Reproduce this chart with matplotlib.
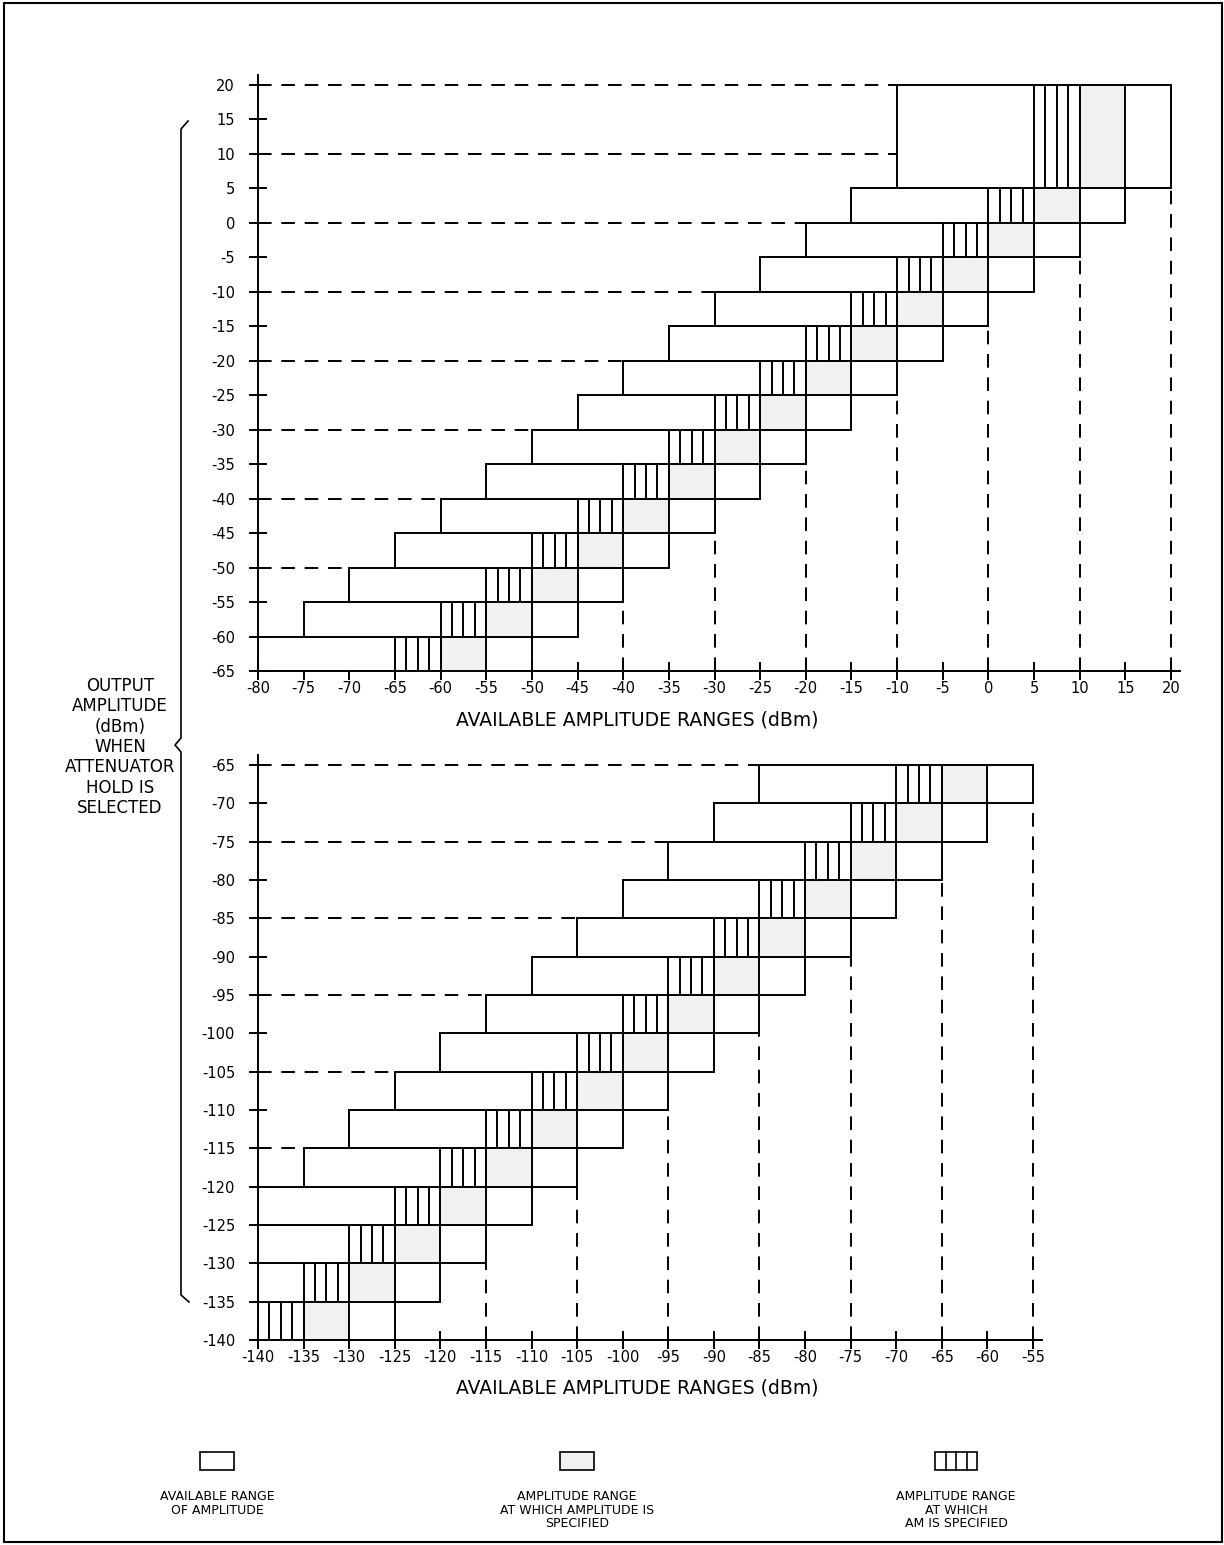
#!/usr/bin/env python3
# -*- coding: utf-8 -*-
'''
Attenuator hold: available amplitude ranges (two panels)
'''
import numpy as np
import matplotlib
matplotlib.use('Agg')
import matplotlib.pyplot as plt
from matplotlib.patches import Rectangle
from matplotlib.lines import Line2D

plt.rcParams['font.family'] = ['DejaVu Sans']
plt.rcParams['axes.unicode_minus'] = False

# ---- upper panel (dBm) ----
top_row_lo   = [-65, -60, -55, -50, -45, -40, -35, -30, -25, -20, -15, -10, -5, 0, 5]
top_row_hi   = [-60, -55, -50, -45, -40, -35, -30, -25, -20, -15, -10, -5, 0, 5, 20]
top_avail_lo = [-80, -75, -70, -65, -60, -55, -50, -45, -40, -35, -30, -25, -20, -15, -10]
top_avail_hi = [-50, -45, -40, -35, -30, -25, -20, -15, -10, -5, 0, 5, 10, 15, 20]
top_am_lo    = [-65, -60, -55, -50, -45, -40, -35, -30, -25, -20, -15, -10, -5, 0, 5]
top_am_hi    = [-60, -55, -50, -45, -40, -35, -30, -25, -20, -15, -10, -5, 0, 5, 10]
top_spec_hi  = [-55, -50, -45, -40, -35, -30, -25, -20, -15, -10, -5, 0, 5, 10, 15]
top_dash_h_y = [20, 10, 0, -10, -20, -30, -40, -50]
top_dash_h_x = [-10, -10, -20, -30, -40, -50, -60, -70]
top_dash_v_x = [20, 10, 0, -10, -20, -30, -40]
top_dash_v_y = [5, -5, -15, -25, -35, -45, -55]
top_xticks = list(range(-80, 21, 5))
top_yticks = list(range(-65, 21, 5))

# ---- lower panel (dBm) ----
bot_row_lo   = [-140, -135, -130, -125, -120, -115, -110, -105, -100, -95, -90, -85, -80, -75, -70]
bot_row_hi   = [-135, -130, -125, -120, -115, -110, -105, -100, -95, -90, -85, -80, -75, -70, -65]
bot_avail_lo = [-140, -140, -140, -140, -135, -130, -125, -120, -115, -110, -105, -100, -95, -90, -85]
bot_avail_hi = [-125, -120, -115, -110, -105, -100, -95, -90, -85, -80, -75, -70, -65, -60, -55]
bot_am_lo    = [-140, -135, -130, -125, -120, -115, -110, -105, -100, -95, -90, -85, -80, -75, -70]
bot_am_hi    = [-135, -130, -125, -120, -115, -110, -105, -100, -95, -90, -85, -80, -75, -70, -65]
bot_spec_hi  = [-130, -125, -120, -115, -110, -105, -100, -95, -90, -85, -80, -75, -70, -65, -60]
bot_dash_h_y = [-65, -75, -85, -95, -105, -115]
bot_dash_h_x = [-85, -95, -105, -115, -125, -135]
bot_dash_v_x = [-55, -65, -75, -85, -95, -105, -115]
bot_dash_v_y = [-70, -80, -90, -100, -110, -120, -130]
bot_xticks = list(range(-140, -54, 5))
bot_yticks = list(range(-140, -64, 5))

W, H = 1224, 1545
LW = 1.4
GRAY = '#f1f1f1'
DASH = (0, (7, 5))


def fx(px):
    return px / W


def fy(py):
    return 1 - py / H


def draw_panel(ax, row_lo, row_hi, avail_lo, avail_hi, am_lo, am_hi, spec_hi,
               dh_y, dh_x, dv_x, dv_y, xticks, yticks, xlim, ylim):
    for i in range(len(row_lo)):
        h = row_hi[i] - row_lo[i]
        ax.add_patch(Rectangle((avail_lo[i], row_lo[i]), avail_hi[i] - avail_lo[i], h,
                               facecolor='white', edgecolor='black', lw=LW, zorder=2))
        ax.add_patch(Rectangle((am_hi[i], row_lo[i]), spec_hi[i] - am_hi[i], h,
                               facecolor=GRAY, edgecolor='black', lw=LW, zorder=3))
        # AM range: four vertical strips
        for x in np.linspace(am_lo[i], am_hi[i], 5):
            ax.plot([x, x], [row_lo[i], row_hi[i]], color='black', lw=LW, zorder=4)
    for y, x in zip(dh_y, dh_x):
        ax.plot([xlim[0], x], [y, y], color='black', lw=LW, linestyle=DASH, zorder=1)
    for x, y in zip(dv_x, dv_y):
        ax.plot([x, x], [ylim[0], y], color='black', lw=LW, linestyle=DASH, zorder=1)

    ax.set_xlim(*xlim)
    ax.set_ylim(*ylim)
    ax.spines['top'].set_visible(False)
    ax.spines['right'].set_visible(False)
    for s in ('left', 'bottom'):
        ax.spines[s].set_linewidth(LW)
        ax.spines[s].set_zorder(5)
    ax.set_xticks(xticks)
    ax.set_yticks(yticks)
    ax.tick_params(axis='both', direction='inout', length=13, width=LW, labelsize=10.5)
    ax.tick_params(axis='x', pad=1)
    ax.tick_params(axis='y', pad=10)


fig = plt.figure(figsize=(W / 100, H / 100), dpi=100)

# upper panel: x -80..20 at px 258..1171, y -65..20 at py 671..85
ax1 = fig.add_axes([fx(258), fy(671), (1171 - 258) / 100 * 101 / W, (671 - 85) / 85 * 86.5 / H])
draw_panel(ax1, top_row_lo, top_row_hi, top_avail_lo, top_avail_hi, top_am_lo, top_am_hi,
           top_spec_hi, top_dash_h_y, top_dash_h_x, top_dash_v_x, top_dash_v_y,
           top_xticks, top_yticks, (-80, 21), (-65, 21.5))

# lower panel: x -140..-55 at px 258..1033, y -140..-65 at py 1340..765
ax2 = fig.add_axes([fx(258), fy(1340), (1033 - 258) / 85 * 86 / W, (1340 - 765) / 75 * 76.3 / H])
draw_panel(ax2, bot_row_lo, bot_row_hi, bot_avail_lo, bot_avail_hi, bot_am_lo, bot_am_hi,
           bot_spec_hi, bot_dash_h_y, bot_dash_h_x, bot_dash_v_x, bot_dash_v_y,
           bot_xticks, bot_yticks, (-140, -54), (-140, -63.7))

# axis titles
fig.text(fx(637), fy(720), 'AVAILABLE AMPLITUDE RANGES (dBm)', ha='center', va='center', fontsize=13.5)
fig.text(fx(637), fy(1388), 'AVAILABLE AMPLITUDE RANGES (dBm)', ha='center', va='center', fontsize=13.5)

# shared y label with brace
fig.text(fx(120), fy(747), 'OUTPUT\nAMPLITUDE\n(dBm)\nWHEN\nATTENUATOR\nHOLD IS\nSELECTED',
         ha='center', va='center', fontsize=12, linespacing=1.17)
brace_px = [(188, 121), (181, 129), (181, 738), (175, 745), (181, 752), (181, 1295), (189, 1302)]
fig.add_artist(Line2D([fx(p[0]) for p in brace_px], [fy(p[1]) for p in brace_px],
                      color='black', lw=1.2))

# legend
leg_boxes = [(200, 34), (560, 34), (935, 42)]
leg_texts = ['AVAILABLE RANGE\nOF AMPLITUDE',
             'AMPLITUDE RANGE\nAT WHICH AMPLITUDE IS\nSPECIFIED',
             'AMPLITUDE RANGE\nAT WHICH\nAM IS SPECIFIED']
for k, ((x0, w), txt) in enumerate(zip(leg_boxes, leg_texts)):
    face = GRAY if k == 1 else 'white'
    fig.add_artist(Rectangle((fx(x0), fy(1470)), w / W, 18 / H, transform=fig.transFigure,
                             facecolor=face, edgecolor='black', lw=1.2))
    if k == 2:
        for xs in np.linspace(x0, x0 + w, 5)[1:-1]:
            fig.add_artist(Line2D([fx(xs), fx(xs)], [fy(1470), fy(1452)], color='black', lw=1.2))
    fig.text(fx(x0 + w / 2), fy(1490), txt, ha='center', va='top', fontsize=9, linespacing=1.05)

# page border
fig.add_artist(Rectangle((fx(4), fy(1542)), (1222 - 4) / W, (1542 - 3) / H,
                         transform=fig.transFigure, fill=False, edgecolor='black', lw=1.5))

fig.savefig('out.png', dpi=100)
